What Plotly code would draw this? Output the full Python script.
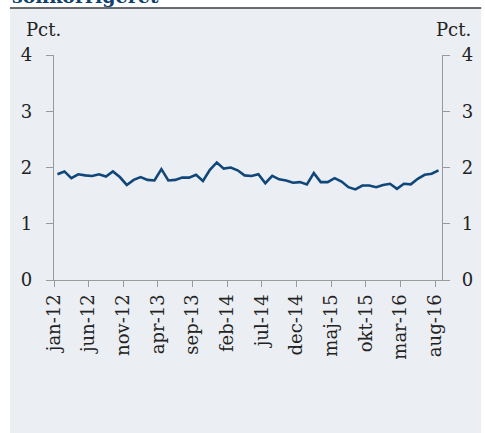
import plotly.graph_objects as go

months = ["jan-12","feb-12","mar-12","apr-12","maj-12","jun-12","jul-12","aug-12","sep-12","okt-12","nov-12","dec-12",
          "jan-13","feb-13","mar-13","apr-13","maj-13","jun-13","jul-13","aug-13","sep-13","okt-13","nov-13","dec-13",
          "jan-14","feb-14","mar-14","apr-14","maj-14","jun-14","jul-14","aug-14","sep-14","okt-14","nov-14","dec-14",
          "jan-15","feb-15","mar-15","apr-15","maj-15","jun-15","jul-15","aug-15","sep-15","okt-15","nov-15","dec-15",
          "jan-16","feb-16","mar-16","apr-16","maj-16","jun-16","jul-16","aug-16"]
values = [1.88,1.93,1.81,1.88,1.86,1.85,1.88,1.84,1.93,1.83,1.69,1.78,
          1.83,1.78,1.77,1.97,1.77,1.78,1.82,1.82,1.87,1.76,1.96,2.09,
          1.98,2.00,1.95,1.86,1.85,1.88,1.72,1.85,1.79,1.77,1.73,1.74,
          1.70,1.90,1.74,1.74,1.81,1.75,1.65,1.61,1.68,1.68,1.65,1.69,
          1.71,1.62,1.71,1.70,1.80,1.87,1.89,1.95]
tick_labels = months[::5]
y_ticks = [0, 1, 2, 3, 4]

FONT = "DejaVu Serif"
L, R, T, B = 54, 35, 55, 153
W, H = 485, 433
pw, ph = W - L - R, H - T - B

def px(x):
    return (x - L) / pw

def py(y):
    return (H - B - y) / ph

xpos = [i + 0.5 for i in range(len(values))]
tickpos = [i for i in range(0, len(months), 5)]

fig = go.Figure()
fig.add_trace(go.Scatter(x=xpos, y=values, mode="lines",
                         line=dict(color="#10477a", width=2.6), hoverinfo="skip"))
fig.add_trace(go.Scatter(x=[0], y=[0], yaxis="y2", mode="markers",
                         marker=dict(opacity=0), hoverinfo="skip"))

axis_color = "#9a9a9a"
tf = dict(family=FONT, size=18, color="#222")
fig.update_layout(
    width=W, height=H,
    margin=dict(l=L, r=R, t=T, b=B),
    paper_bgcolor="white",
    plot_bgcolor="rgba(0,0,0,0)",
    showlegend=False,
    font=dict(family=FONT, size=18, color="#222"),
    xaxis=dict(range=[0, len(months)], tickmode="array", tickvals=tickpos, ticktext=tick_labels,
               tickangle=-90, ticks="outside", ticklen=6, tickcolor=axis_color,
               showline=True, linecolor=axis_color, linewidth=1.2, showgrid=False, zeroline=False,
               tickfont=tf),
    yaxis=dict(range=[0, 4], tickvals=y_ticks, ticks="outside", ticklen=7, tickcolor=axis_color,
               showline=True, linecolor=axis_color, linewidth=1.2, showgrid=False, zeroline=False,
               ticklabelstandoff=10, tickfont=tf),
    yaxis2=dict(range=[0, 4], tickvals=y_ticks, overlaying="y", side="right", ticks="outside", ticklen=7,
                tickcolor=axis_color, showline=True, linecolor=axis_color, linewidth=1.2,
                showgrid=False, zeroline=False, ticklabelstandoff=8, tickfont=tf),
    shapes=[
        dict(type="rect", xref="paper", yref="paper", x0=px(9), x1=px(490), y0=py(440), y1=py(8),
             fillcolor="#ebeef2", line=dict(width=0), layer="below"),
        dict(type="line", xref="paper", yref="paper", x0=px(9), x1=px(490), y0=py(8), y1=py(8),
             line=dict(color="#3c3c3c", width=1.5)),
    ],
    annotations=[
        dict(text="Pct.", xref="paper", yref="paper", x=px(23), y=py(30), xanchor="left", yanchor="middle",
             showarrow=False, font=tf),
        dict(text="Pct.", xref="paper", yref="paper", x=px(482), y=py(30), xanchor="right", yanchor="middle",
             showarrow=False, font=tf),
        dict(text="<b>sonkorrigeret</b>", xref="paper", yref="paper", x=px(9), y=py(-4), xanchor="left",
             yanchor="middle", showarrow=False, font=dict(family=FONT, size=19, color="#123f6e")),
    ],
)

fig.write_html("out.html", config={"displayModeBar": False},
               post_script="document.body.style.margin='0';document.body.style.overflow='hidden';")
